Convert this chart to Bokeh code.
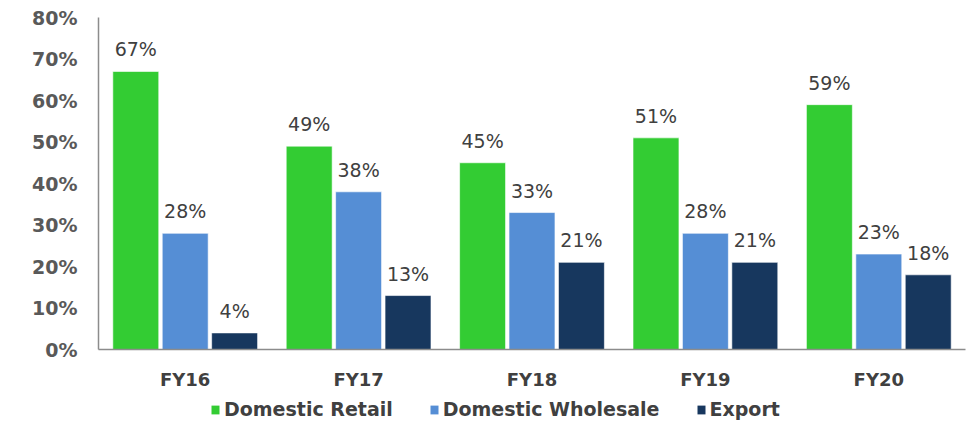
from bokeh.plotting import figure
from bokeh.layouts import column
from bokeh.models import ColumnDataSource, FactorRange, Range1d, FixedTicker, Legend, LegendItem, LabelSet
from bokeh.core.properties import value
from bokeh.transform import dodge
from bokeh.embed import file_html
from bokeh.resources import INLINE

years = ["FY16", "FY17", "FY18", "FY19", "FY20"]
domestic_retail = [67, 49, 45, 51, 59]
domestic_wholesale = [28, 38, 33, 28, 23]
export = [4, 13, 21, 21, 18]
y_ticks = [0, 10, 20, 30, 40, 50, 60, 70, 80]
y_tick_labels = ["0%", "10%", "20%", "30%", "40%", "50%", "60%", "70%", "80%"]

series = [
    ("Domestic Retail", domestic_retail, "#33CC33", -0.285),
    ("Domestic Wholesale", domestic_wholesale, "#558ED5", 0.0),
    ("Export", export, "#17375E", 0.285),
]

xr = FactorRange(*years, range_padding=0)
p = figure(width=972, height=392, x_range=xr,
           y_range=Range1d(0, 80), output_backend="svg", toolbar_location=None,
           min_border_left=98, min_border_right=7, min_border_top=17, min_border_bottom=43)
p.outline_line_color = None
p.grid.grid_line_color = None
p.background_fill_color = "white"

# legend strip below the chart
lg = figure(width=972, height=32, x_range=xr, y_range=Range1d(1000, 1001),
            output_backend="svg", toolbar_location=None,
            x_axis_location=None, y_axis_location=None,
            min_border_left=0, min_border_right=0, min_border_top=0, min_border_bottom=0)
lg.outline_line_color = None
lg.grid.grid_line_color = None

items = []
for name, vals, color, off in series:
    src = ColumnDataSource(dict(x=years, top=vals, lab=[f"{v}%" for v in vals]))
    p.vbar(x=dodge("x", off, range=xr), top="top", width=0.265, source=src,
           fill_color=color, line_color="white", line_alpha=0.6, line_width=1)
    r = lg.vbar(x=dodge("x", off, range=xr), top="top", width=0.265, source=src,
                fill_color=color, line_color=None)
    items.append(LegendItem(label=name, renderers=[r]))
    labels = LabelSet(x=dodge("x", off, range=xr), y="top", text="lab", source=src,
                      text_align="center", text_baseline="alphabetic", y_offset=15,
                      text_font=value("DejaVu Sans"), text_font_size=value("19px"),
                      text_color="#404040")
    p.add_layout(labels)

p.yaxis.ticker = FixedTicker(ticks=y_ticks)
p.yaxis.major_label_overrides = {t: l for t, l in zip(y_ticks, y_tick_labels)}
for ax in (p.xaxis, p.yaxis):
    ax.axis_line_color = "#8C8C8C"
    ax.axis_line_width = 1.5
    ax.major_tick_line_color = None
    ax.minor_tick_line_color = None
    ax.major_label_text_font = "DejaVu Sans"
    ax.major_label_text_font_style = "bold"
    ax.major_label_text_color = "#595959"
p.yaxis.major_label_text_font_size = "19px"
p.yaxis.major_label_standoff = 15
p.xaxis.major_label_text_font_size = "18px"
p.xaxis.major_label_standoff = 13
p.xaxis.major_label_text_color = "#404040"

legend = Legend(items=items, orientation="horizontal", location=(112, 4),
                label_text_font="DejaVu Sans", label_text_font_style="bold",
                label_text_font_size="19px", label_text_color="#404040",
                glyph_width=10, glyph_height=11, label_standoff=4, spacing=36,
                label_height=20, padding=0, margin=0,
                border_line_color=None, background_fill_alpha=0)
lg.add_layout(legend)

layout = column(p, lg, spacing=0)
open("out.html", "w").write(file_html(layout, INLINE))
